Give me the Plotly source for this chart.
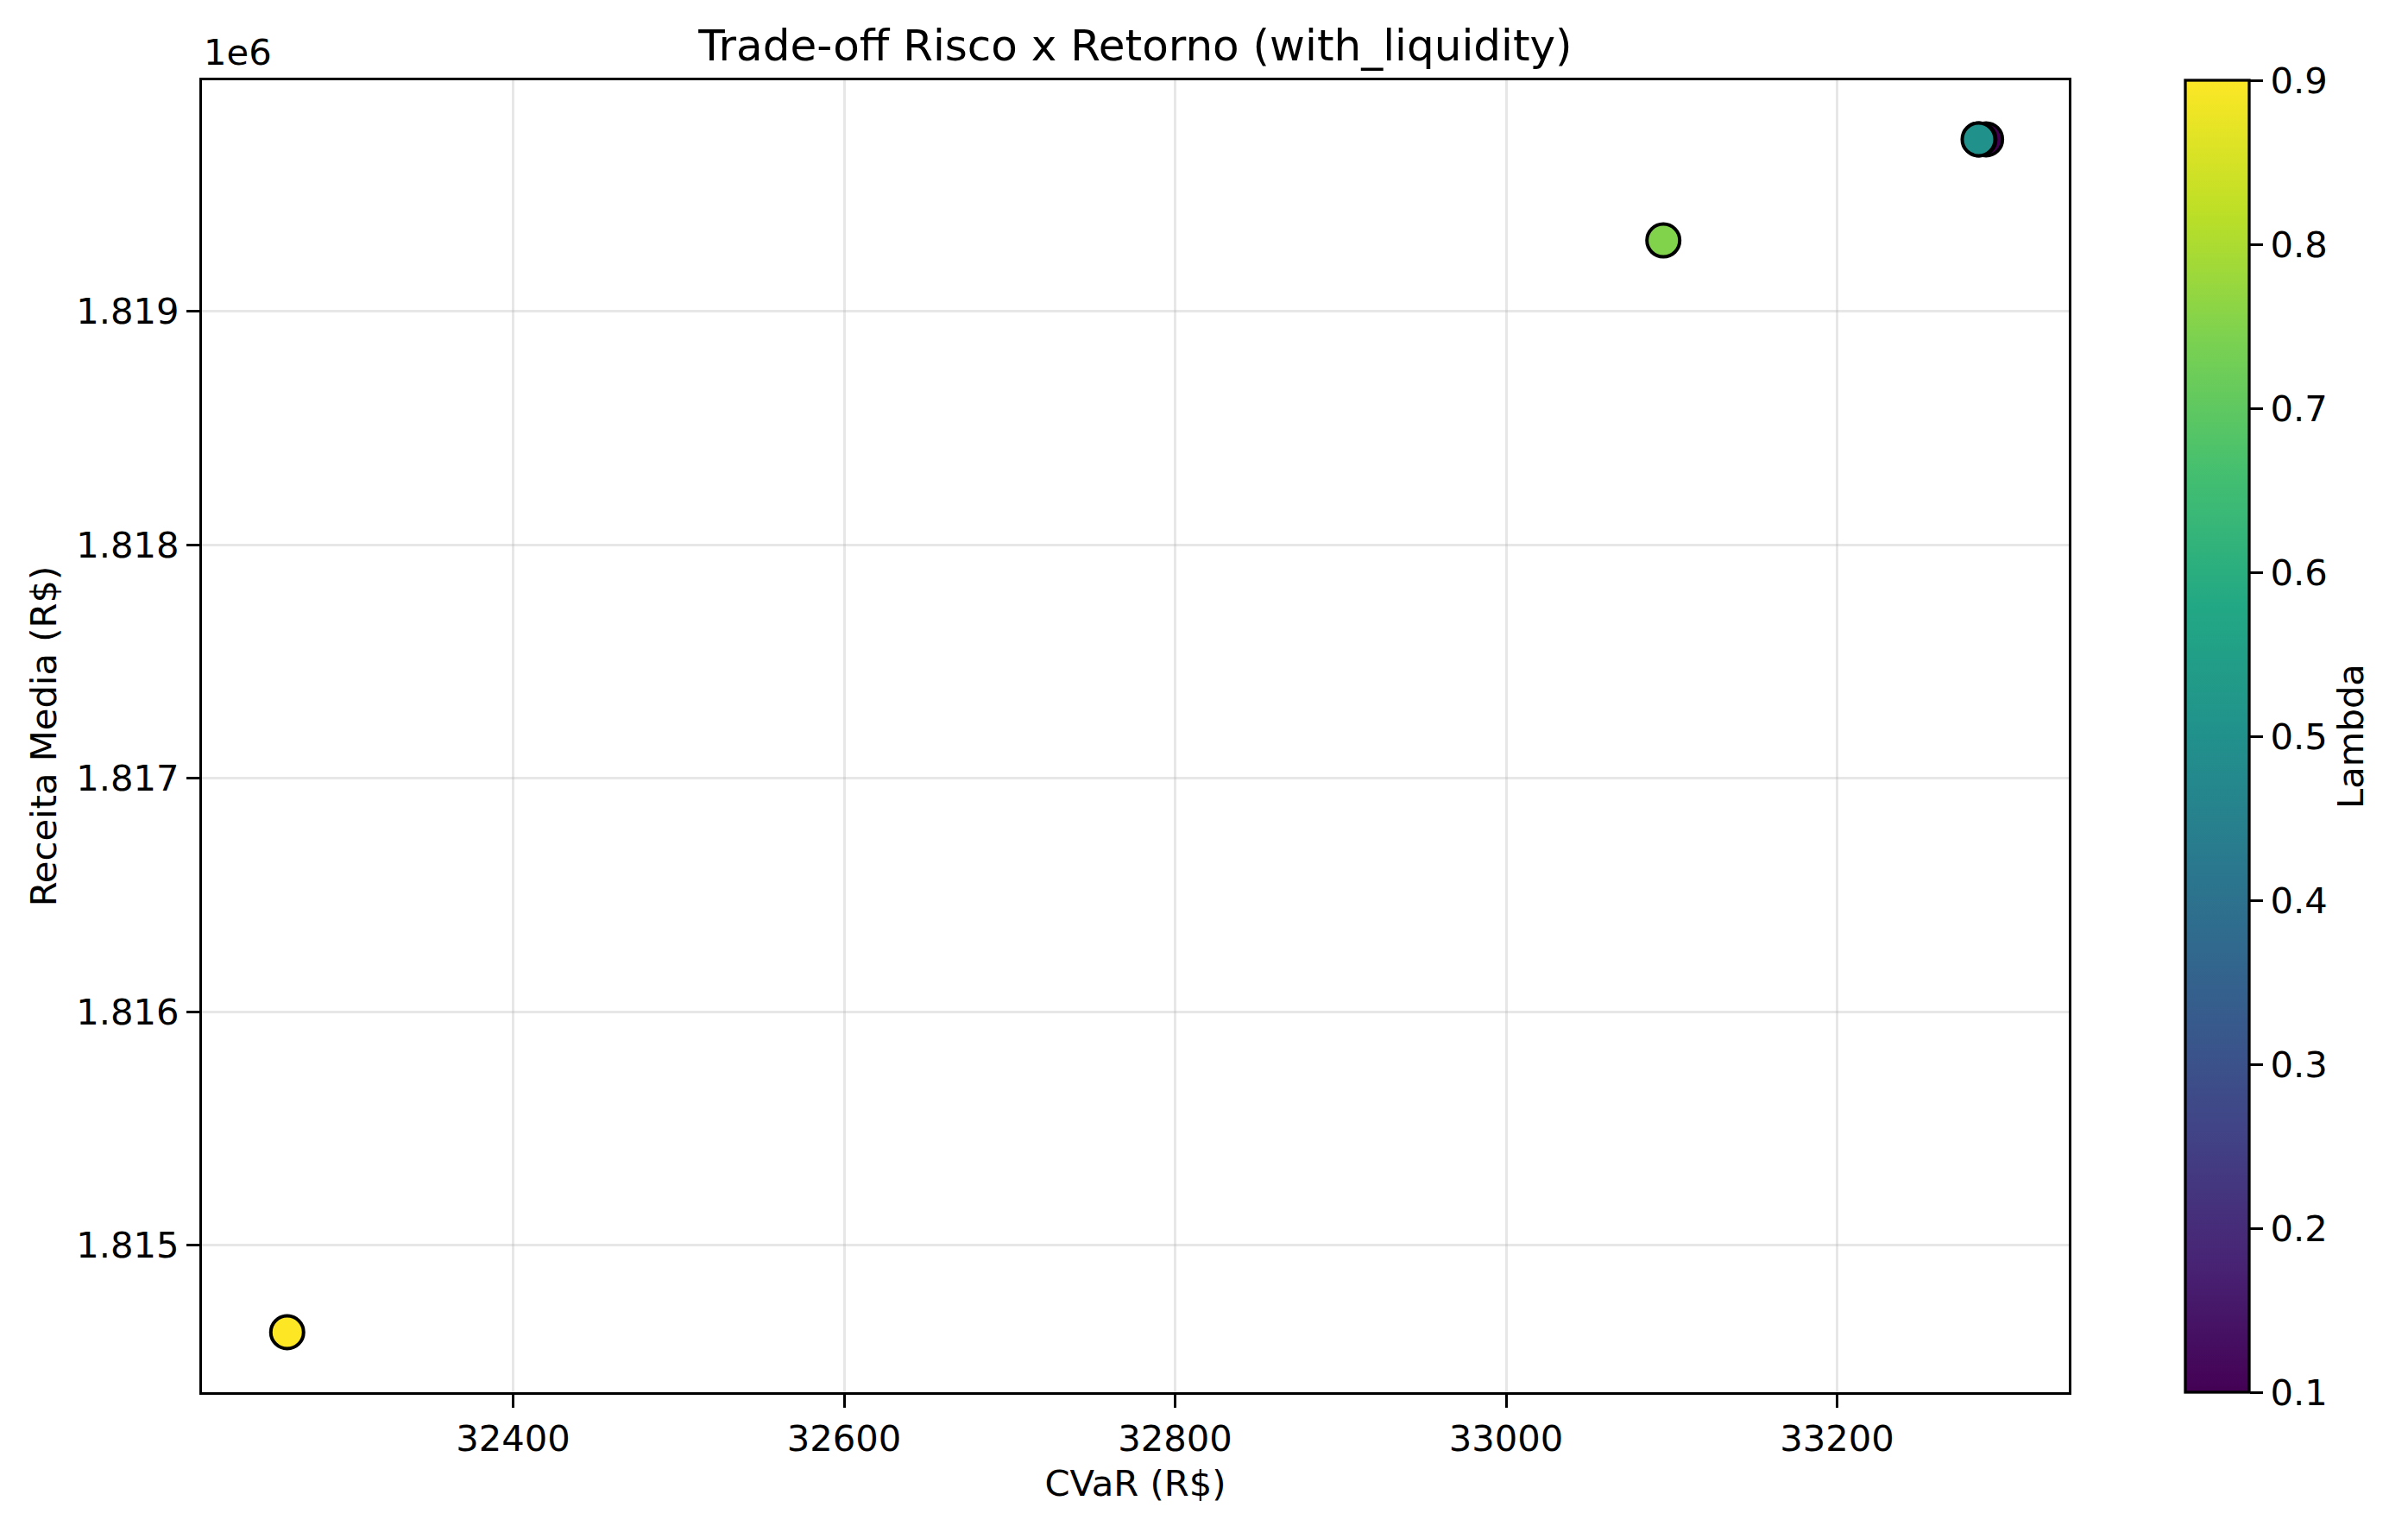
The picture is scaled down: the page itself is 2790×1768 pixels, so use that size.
import plotly.graph_objects as go

# valores
lambdas = [0.1, 0.25, 0.5, 0.75, 0.9]
cvar = [33290, 33286, 33285.5, 33095, 32263.5]
receita = [1819737, 1819737, 1819737, 1819304, 1814627]

x_ticks = [32400, 32600, 32800, 33000, 33200]
y_ticks = [1815000, 1816000, 1817000, 1818000, 1819000]
y_tick_text = [f"{v / 1e6:.3f}" for v in y_ticks]
cbar_ticks = [0.1, 0.2, 0.3, 0.4, 0.5, 0.6, 0.7, 0.8, 0.9]

# viridis do matplotlib
viridis_mpl = [
    [0.0, "#440154"], [0.1, "#482475"], [0.2, "#414487"], [0.3, "#355f8d"],
    [0.4, "#2a788e"], [0.5, "#21918c"], [0.6, "#22a884"], [0.7, "#44bf70"],
    [0.8, "#7ad151"], [0.9, "#bddf26"], [1.0, "#fde725"],
]

W, H = 2790, 1768
L, R, T, B = 234, 2397, 93, 1613
FONT = "DejaVu Sans"
grid = "rgba(176,176,176,0.3)"

fig = go.Figure()
fig.add_trace(go.Scatter(
    x=cvar, y=receita, mode="markers",
    marker=dict(
        size=38, color=lambdas, colorscale=viridis_mpl, cmin=0.1, cmax=0.9,
        line=dict(color="black", width=4),
        colorbar=dict(
            xref="container", x=2532 / W, xanchor="left", xpad=0, ypad=0,
            thickness=74, len=1, lenmode="fraction", y=0.5, yanchor="middle",
            outlinewidth=3.3, outlinecolor="black",
            tickvals=cbar_ticks, ticktext=[f"{t:.1f}" for t in cbar_ticks],
            ticks="outside", ticklen=15, tickwidth=3.3, tickcolor="black",
            tickfont=dict(family=FONT, size=41.7, color="black"),
            title=dict(text="Lambda", side="right",
                       font=dict(family=FONT, size=41.7, color="black")),
        ),
    ),
    showlegend=False,
))

axis_common = dict(
    showline=True, linecolor="black", linewidth=3.3, mirror=True,
    ticks="outside", ticklen=15, tickwidth=3.3, tickcolor="black",
    showgrid=True, gridcolor=grid, gridwidth=3, zeroline=False,
    tickfont=dict(family=FONT, size=41.7, color="black"),
)

fig.update_xaxes(range=[32212, 33340], tickvals=x_ticks,
                 ticktext=[str(t) for t in x_ticks],
                 title=dict(text="CVaR (R$)", standoff=14,
                            font=dict(family=FONT, size=41.7, color="black")),
                 **axis_common)
fig.update_yaxes(range=[1814370, 1819990], tickvals=y_ticks, ticktext=y_tick_text,
                 title=dict(text="Receita Media (R$)", standoff=10,
                            font=dict(family=FONT, size=41.7, color="black")),
                 **axis_common)

fig.add_annotation(text="1e6", xref="paper", yref="paper", x=0, y=1,
                   xanchor="left", yanchor="bottom", yshift=6, showarrow=False,
                   font=dict(family=FONT, size=41.7, color="black"))

fig.update_layout(
    width=W, height=H,
    margin=dict(l=L, r=W - R, t=T, b=H - B, autoexpand=False),
    paper_bgcolor="white", plot_bgcolor="white",
    title=dict(text="Trade-off Risco x Retorno (with_liquidity)",
               x=(L + R) / 2 / W, xanchor="center", y=1 - 52 / H, yanchor="middle",
               font=dict(family=FONT, size=50, color="black")),
)

fig.write_html("out.html", config={"displayModeBar": False},
               post_script="document.body.style.margin='0';")
